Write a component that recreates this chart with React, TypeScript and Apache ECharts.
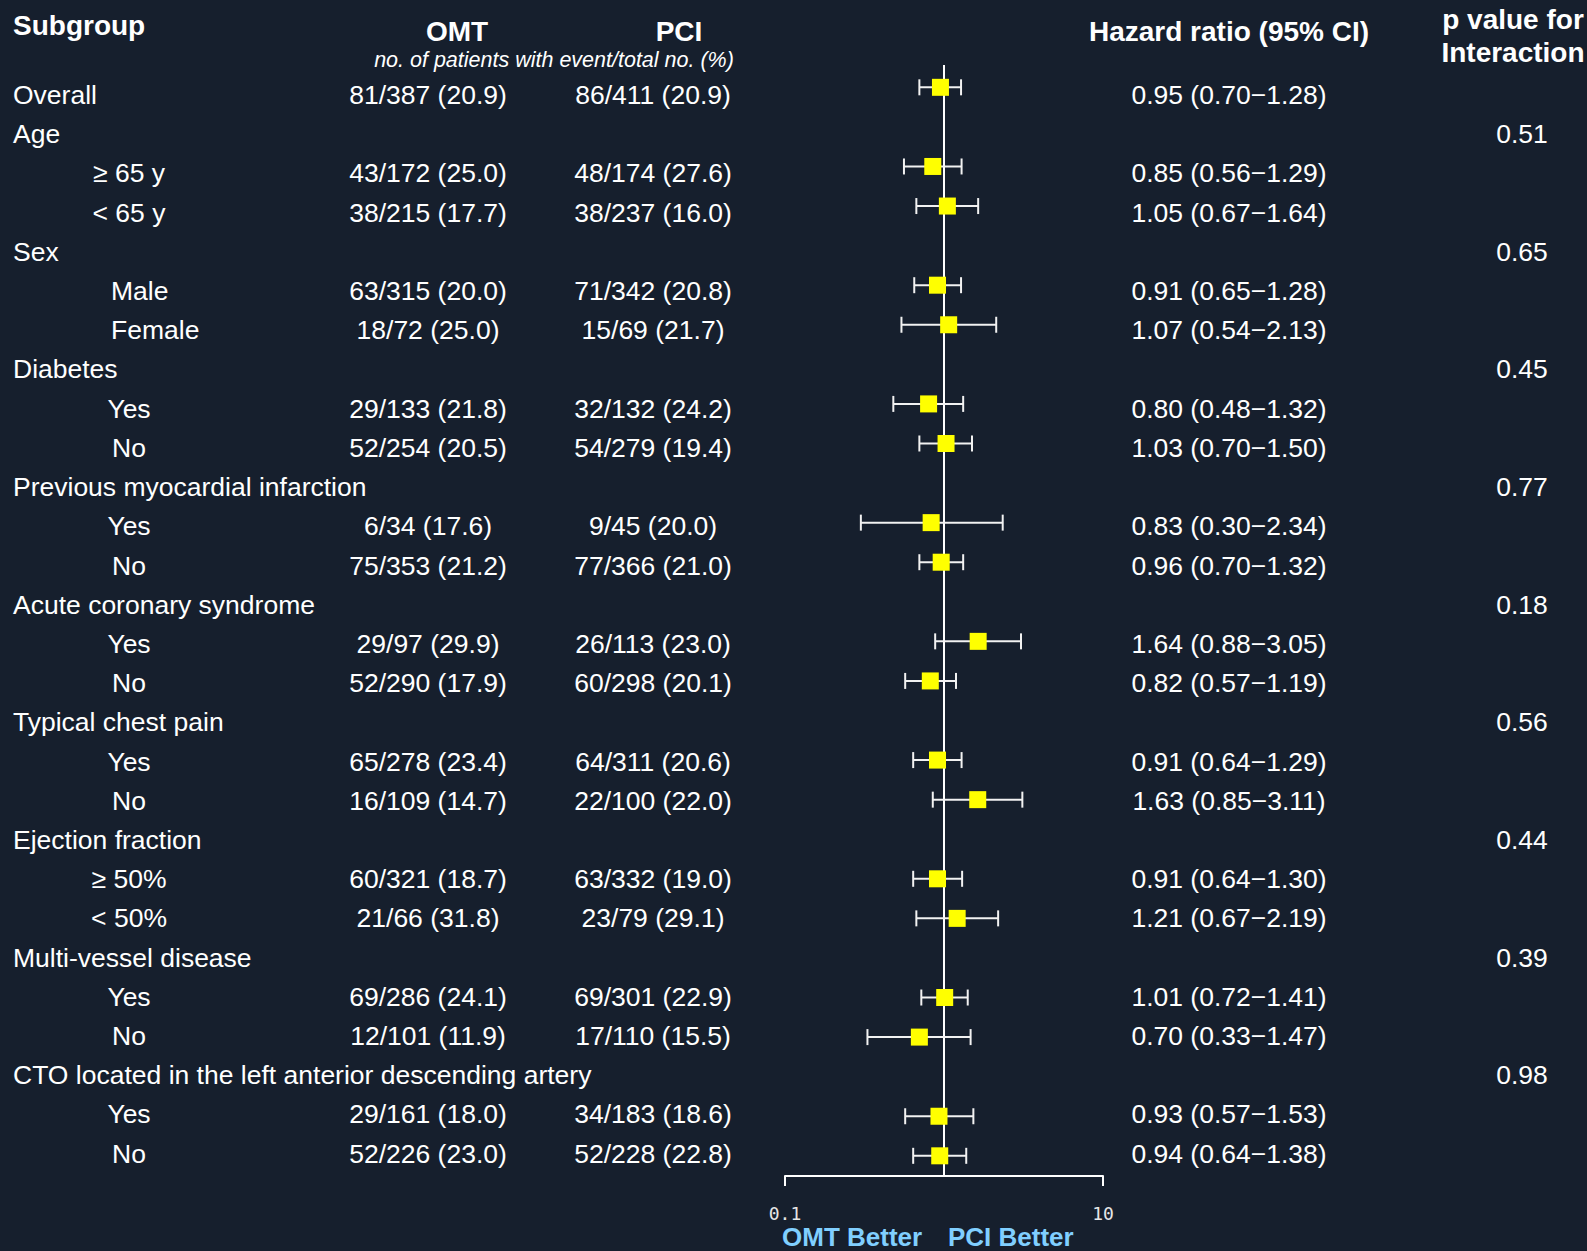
import React, { useEffect, useRef } from "react";
import * as echarts from "echarts";

// Subgroup rows, top to bottom
const rowLabels = [
  "Overall",
  "Age", "≥ 65 y", "< 65 y",
  "Sex", "Male", "Female",
  "Diabetes", "Yes", "No",
  "Previous myocardial infarction", "Yes", "No",
  "Acute coronary syndrome", "Yes", "No",
  "Typical chest pain", "Yes", "No",
  "Ejection fraction", "≥ 50%", "< 50%",
  "Multi-vessel disease", "Yes", "No",
  "CTO located in the left anterior descending artery", "Yes", "No",
];

// true for rows that are nested under a group heading
const isSubRow = [
  false,
  false, true, true,
  false, true, true,
  false, true, true,
  false, true, true,
  false, true, true,
  false, true, true,
  false, true, true,
  false, true, true,
  false, true, true,
];

const omtEvents = [
  "81/387 (20.9)",
  "", "43/172 (25.0)", "38/215 (17.7)",
  "", "63/315 (20.0)", "18/72 (25.0)",
  "", "29/133 (21.8)", "52/254 (20.5)",
  "", "6/34 (17.6)", "75/353 (21.2)",
  "", "29/97 (29.9)", "52/290 (17.9)",
  "", "65/278 (23.4)", "16/109 (14.7)",
  "", "60/321 (18.7)", "21/66 (31.8)",
  "", "69/286 (24.1)", "12/101 (11.9)",
  "", "29/161 (18.0)", "52/226 (23.0)",
];

const pciEvents = [
  "86/411 (20.9)",
  "", "48/174 (27.6)", "38/237 (16.0)",
  "", "71/342 (20.8)", "15/69 (21.7)",
  "", "32/132 (24.2)", "54/279 (19.4)",
  "", "9/45 (20.0)", "77/366 (21.0)",
  "", "26/113 (23.0)", "60/298 (20.1)",
  "", "64/311 (20.6)", "22/100 (22.0)",
  "", "63/332 (19.0)", "23/79 (29.1)",
  "", "69/301 (22.9)", "17/110 (15.5)",
  "", "34/183 (18.6)", "52/228 (22.8)",
];

const hazardRatio = [
  0.95,
  null, 0.85, 1.05,
  null, 0.91, 1.07,
  null, 0.80, 1.03,
  null, 0.83, 0.96,
  null, 1.64, 0.82,
  null, 0.91, 1.63,
  null, 0.91, 1.21,
  null, 1.01, 0.70,
  null, 0.93, 0.94,
];

const ciLower = [
  0.70,
  null, 0.56, 0.67,
  null, 0.65, 0.54,
  null, 0.48, 0.70,
  null, 0.30, 0.70,
  null, 0.88, 0.57,
  null, 0.64, 0.85,
  null, 0.64, 0.67,
  null, 0.72, 0.33,
  null, 0.57, 0.64,
];

const ciUpper = [
  1.28,
  null, 1.29, 1.64,
  null, 1.28, 2.13,
  null, 1.32, 1.50,
  null, 2.34, 1.32,
  null, 3.05, 1.19,
  null, 1.29, 3.11,
  null, 1.30, 2.19,
  null, 1.41, 1.47,
  null, 1.53, 1.38,
];

const pInteraction = [
  "",
  "0.51", "", "",
  "0.65", "", "",
  "0.45", "", "",
  "0.77", "", "",
  "0.18", "", "",
  "0.56", "", "",
  "0.44", "", "",
  "0.39", "", "",
  "0.98", "", "",
];

const axisTickValues = [0.1, 10];

// ---- styling / layout ----
const BG = "#161f2d";
const FG = "#ffffff";
const ACCENT = "#80cfff";
const SANS = '"Liberation Sans", Arial, Helvetica, sans-serif';
const ROW_FONT = `26.5px ${SANS}`;
const HEAD_FONT = `bold 28px ${SANS}`;

const COL_GROUP_X = 13;
const COL_SUB_X = 129;
const COL_OMT_X = 428;
const COL_PCI_X = 653;
const COL_HR_X = 1229;
const COL_P_X = 1522;
// a few sub-labels sit left-aligned rather than centred in the indent column
const leftAlignedSub: Record<string, number> = { Male: 111, Female: 111 };

const fmt = (v: number) => v.toFixed(2);

export default function App() {
  const ref = useRef<HTMLDivElement>(null);

  useEffect(() => {
    const el = ref.current;
    if (!el) return;
    const chart = echarts.init(el, null, { renderer: "svg" });

    const rowIndex = rowLabels.map((_, i) => i);

    const estimates: number[][] = [];
    hazardRatio.forEach((hr, i) => {
      if (hr != null && ciLower[i] != null && ciUpper[i] != null) {
        estimates.push([hr, ciLower[i] as number, ciUpper[i] as number, i]);
      }
    });

    const txt = (text: string, x: number, y: number, font: string, align: string, fill = FG) => ({
      type: "text",
      x,
      y,
      style: { text, x: 0, y: 0, font, align, verticalAlign: "middle", fill },
    });

    const option: any = {
      animation: false,
      backgroundColor: BG,
      grid: [
        // text table
        { left: 0, top: 75.4, width: 1587, height: 1097.9, containLabel: false },
        // forest plot panel
        { left: 785, top: 65, width: 318, height: 1111, containLabel: false },
      ],
      xAxis: [
        { gridIndex: 0, type: "value", min: 0, max: 1587, show: false },
        {
          gridIndex: 1,
          type: "log",
          logBase: 10,
          min: 0.1,
          max: 10,
          position: "bottom",
          axisLine: { show: true, onZero: false, lineStyle: { color: FG, width: 2 } },
          axisTick: {
            show: true,
            inside: false,
            length: 10,
            customValues: axisTickValues,
            lineStyle: { color: FG, width: 2 },
          },
          axisLabel: {
            show: true,
            customValues: axisTickValues,
            margin: 28,
            color: "#e6e6e6",
            fontFamily: '"DejaVu Sans Mono", monospace',
            fontSize: 18,
            formatter: (v: number) => String(v),
          },
          splitLine: { show: false },
          minorTick: { show: false },
        },
      ],
      yAxis: [
        { gridIndex: 0, type: "value", min: -0.5, max: 27.5, inverse: true, show: false },
        { gridIndex: 1, type: "value", min: -0.564, max: 27.51, inverse: true, show: false },
      ],
      graphic: [
        txt("Subgroup", 13, 25, HEAD_FONT, "left"),
        txt("OMT", 457, 31, HEAD_FONT, "center"),
        txt("PCI", 679, 31, HEAD_FONT, "center"),
        txt("no. of patients with event/total no. (%)", 554, 60, `italic 21.5px ${SANS}`, "center"),
        txt("Hazard ratio (95% CI)", 1229, 31, HEAD_FONT, "center"),
        txt("p value for", 1513, 19, HEAD_FONT, "center"),
        txt("Interaction", 1513, 52, HEAD_FONT, "center"),
        txt("OMT Better", 782, 1237, `bold 26px ${SANS}`, "left", ACCENT),
        txt("PCI Better", 948, 1237, `bold 26px ${SANS}`, "left", ACCENT),
      ],
      series: [
        {
          // table of subgroup labels, event counts, HR text, p values
          type: "custom",
          xAxisIndex: 0,
          yAxisIndex: 0,
          silent: true,
          data: rowIndex.map((i) => [0, i]),
          encode: { x: 0, y: 1 },
          renderItem: (params: any, api: any) => {
            const i = params.dataIndex;
            const y = api.coord([0, i])[1];
            const children: any[] = [];
            const label = rowLabels[i];
            if (isSubRow[i]) {
              if (leftAlignedSub[label] != null) {
                children.push(txt(label, leftAlignedSub[label], y, ROW_FONT, "left"));
              } else {
                children.push(txt(label, COL_SUB_X, y, ROW_FONT, "center"));
              }
            } else {
              children.push(txt(label, COL_GROUP_X, y, ROW_FONT, "left"));
            }
            if (omtEvents[i]) children.push(txt(omtEvents[i], COL_OMT_X, y, ROW_FONT, "center"));
            if (pciEvents[i]) children.push(txt(pciEvents[i], COL_PCI_X, y, ROW_FONT, "center"));
            const hr = hazardRatio[i];
            if (hr != null) {
              const s = `${fmt(hr)} (${fmt(ciLower[i] as number)}\u2212${fmt(ciUpper[i] as number)})`;
              children.push(txt(s, COL_HR_X, y, ROW_FONT, "center"));
            }
            if (pInteraction[i]) children.push(txt(pInteraction[i], COL_P_X, y, ROW_FONT, "center"));
            return { type: "group", children };
          },
          z: 5,
        },
        {
          // line of no effect at HR = 1
          type: "line",
          xAxisIndex: 1,
          yAxisIndex: 1,
          data: [
            [1, -0.564],
            [1, 27.51],
          ],
          symbol: "none",
          silent: true,
          lineStyle: { color: FG, width: 2 },
          z: 2,
        },
        {
          // confidence intervals with whisker caps and point estimates
          type: "custom",
          xAxisIndex: 1,
          yAxisIndex: 1,
          silent: true,
          data: estimates,
          encode: { x: [0, 1, 2], y: 3 },
          renderItem: (_params: any, api: any) => {
            const hr = api.value(0);
            const lo = api.value(1);
            const hi = api.value(2);
            const row = api.value(3);
            const c = api.coord([hr, row]);
            const l = api.coord([lo, row]);
            const h = api.coord([hi, row]);
            const cap = 8;
            const half = 8.5;
            const stroke = { stroke: "#f2f2f2", lineWidth: 2 };
            return {
              type: "group",
              children: [
                { type: "line", shape: { x1: l[0], y1: l[1], x2: h[0], y2: h[1] }, style: stroke },
                { type: "line", shape: { x1: l[0], y1: l[1] - cap, x2: l[0], y2: l[1] + cap }, style: stroke },
                { type: "line", shape: { x1: h[0], y1: h[1] - cap, x2: h[0], y2: h[1] + cap }, style: stroke },
                {
                  type: "rect",
                  shape: { x: c[0] - half, y: c[1] - half, width: half * 2, height: half * 2 },
                  style: { fill: "#ffff00" },
                },
              ],
            };
          },
          z: 4,
        },
      ],
    };

    chart.setOption(option);
    return () => chart.dispose();
  }, []);

  return (
    <div
      ref={ref}
      style={{ position: "fixed", left: 0, top: 0, width: 1587, height: 1251 }}
    />
  );
}
